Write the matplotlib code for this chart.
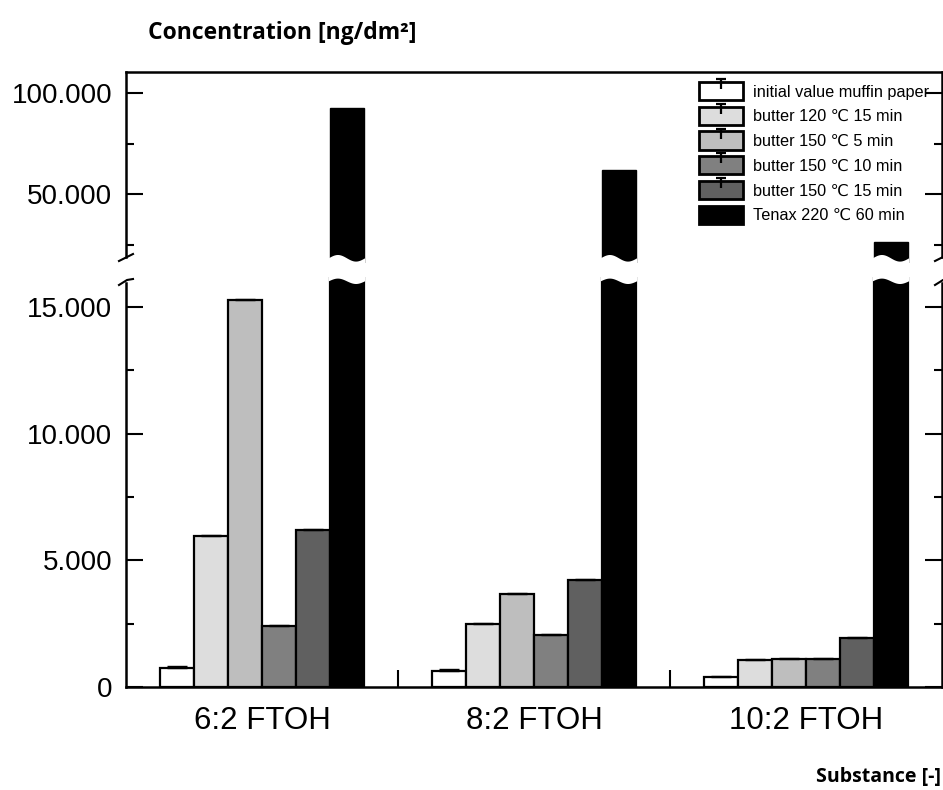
import numpy as np
import matplotlib
matplotlib.use('Agg')
import matplotlib.pyplot as plt
import matplotlib.transforms as mtransforms
from matplotlib.patches import Patch, Polygon
from matplotlib.lines import Line2D
from matplotlib.path import Path
from matplotlib.legend_handler import HandlerTuple
from matplotlib.ticker import FuncFormatter, FixedLocator

plt.rcParams['font.family'] = ['Liberation Sans', 'DejaVu Sans']

# data (ng/dm²)
substances = ['6:2 FTOH', '8:2 FTOH', '10:2 FTOH']
labels = ['initial value muffin paper', 'butter 120 \u2103 15 min',
          'butter 150 \u2103 5 min', 'butter 150 \u2103 10 min',
          'butter 150 \u2103 15 min', 'Tenax 220 \u2103 60 min']
initial = [750, 650, 400]
butter_120_15 = [5950, 2500, 1070]
butter_150_5 = [15270, 3670, 1100]
butter_150_10 = [2400, 2050, 1100]
butter_150_15 = [6200, 4220, 1930]
tenax = [92500, 62000, 26300]
err_initial = [70, 60, 40]
err_120_15 = [50, 40, 40]
err_150_5 = [50, 40, 60]
err_150_10 = [40, 40, 60]
err_150_15 = [40, 40, 60]

values = [initial, butter_120_15, butter_150_5, butter_150_10, butter_150_15, tenax]
errors = [err_initial, err_120_15, err_150_5, err_150_10, err_150_15, None]
colors = ['white', '#dddddd', '#bebebe', '#808080', '#606060', 'black']

W, H = 943, 790
fig = plt.figure(figsize=(W / 100, H / 100), dpi=100)


def fx(px):
    return px / W


def fy(py):
    return 1 - py / H


left, right = 126, 942
ax_top = fig.add_axes([fx(left), fy(263), fx(right - left), (263 - 72) / H])
ax_bot = fig.add_axes([fx(left), fy(687), fx(right - left), (687 - 277) / H],
                      sharex=ax_top)

x = np.arange(len(substances))
width = 0.125
for i, (vals, err, c) in enumerate(zip(values, errors, colors)):
    pos = x + (i - 2.5) * width
    if err is not None:
        yerr = [np.zeros(len(err)), err]
    else:
        yerr = None
    ax_bot.bar(pos, vals, width, color=c, edgecolor='black', linewidth=1.6,
               yerr=yerr, capsize=7,
               error_kw=dict(elinewidth=0.8, capthick=1.0, ecolor='black'))
# only the Tenax series reaches the upper panel
ax_top.bar(x + 2.5 * width, tenax, width, color='black',
           edgecolor='black', linewidth=1.0)

ax_top.set_xlim(-0.5, 2.5)
ax_top.set_ylim(15842, 110396)
ax_bot.set_ylim(0, 16180)

fmt = FuncFormatter(lambda v, p: '{:,.0f}'.format(v).replace(',', '.'))
ax_top.yaxis.set_major_locator(FixedLocator([50000, 100000]))
ax_top.yaxis.set_minor_locator(FixedLocator([25000, 75000]))
ax_bot.yaxis.set_major_locator(FixedLocator([0, 5000, 10000, 15000]))
ax_bot.yaxis.set_minor_locator(FixedLocator([2500, 7500, 12500]))
for ax in (ax_top, ax_bot):
    ax.yaxis.set_major_formatter(fmt)
    ax.tick_params(axis='y', which='major', direction='in', length=12,
                   width=1.5, left=True, right=True, labelsize=20, pad=10)
    ax.tick_params(axis='y', which='minor', direction='in', length=6,
                   width=1.5, left=True, right=True)
    for s in ax.spines.values():
        s.set_linewidth(1.8)

ax_top.spines['bottom'].set_visible(False)
ax_top.spines['left'].set_bounds(18812, 110396)
ax_top.spines['right'].set_bounds(18812, 110396)
ax_top.tick_params(axis='x', which='both', bottom=False, labelbottom=False)

ax_bot.spines['top'].set_visible(False)
ax_bot.spines['left'].set_bounds(0, 15943)
ax_bot.spines['right'].set_bounds(0, 15943)
ax_bot.set_xticks(x)
ax_bot.set_xticklabels(substances)
ax_bot.xaxis.set_minor_locator(FixedLocator([0.5, 1.5]))
ax_bot.tick_params(axis='x', which='major', length=0, labelsize=22.5, pad=14)
ax_bot.tick_params(axis='x', which='minor', direction='in', length=12, width=1.5)

# wavy break across the Tenax bars
blend = mtransforms.blended_transform_factory(ax_bot.transData, fig.transFigure)
t = np.linspace(0, 1, 60)
for g in x:
    x0 = g + 2.0 * width - 0.004
    x1 = g + 3.0 * width + 0.004
    xs = x0 + (x1 - x0) * t
    top = 258.3 - 3.3 * np.sin(2 * np.pi * t)
    bot = 281.3 - 2.7 * np.sin(2 * np.pi * t)
    verts = np.column_stack([np.r_[xs, xs[::-1]],
                             np.r_[fy(top), fy(bot[::-1])]])
    fig.add_artist(Polygon(verts, closed=True, facecolor='white',
                           edgecolor='none', transform=blend, zorder=5))

# break marks on the spines
for xa in (left, right):
    fig.add_artist(Line2D([fx(xa - 7), fx(xa + 7)], [fy(261), fy(254)],
                          transform=fig.transFigure, color='black', lw=1.5))
    fig.add_artist(Line2D([fx(xa - 7), fx(xa + 1), fx(xa + 7)],
                          [fy(285), fy(280), fy(279)],
                          transform=fig.transFigure, color='black', lw=1.5))

# legend with error-bar "T" inside the patches
t_path = Path([(0, 0), (0, 1), (-0.5, 1), (0.5, 1)],
              [Path.MOVETO, Path.LINETO, Path.MOVETO, Path.LINETO])
handles = []
for i, c in enumerate(colors):
    p = Patch(facecolor=c, edgecolor='black', linewidth=2.0)
    if i < 5:
        m = Line2D([], [], marker=t_path, markersize=15, markeredgewidth=1.6,
                   color='black', linestyle='none')
        handles.append((p, m))
    else:
        handles.append(p)
ax_top.legend(handles, labels, handler_map={tuple: HandlerTuple(ndivide=1)},
              loc='upper left', bbox_to_anchor=(fx(699), fy(82)),
              bbox_transform=fig.transFigure, frameon=False, fontsize=11.7,
              handlelength=2.7, handleheight=1.35, labelspacing=0.4,
              handletextpad=0.6, borderpad=0, borderaxespad=0)

fig.text(fx(148), fy(33), 'Concentration [ng/dm\u00b2]', fontsize=16.5,
         fontweight='bold', family=['Open Sans', 'DejaVu Sans'],
         ha='left', va='center')
fig.text(fx(941), fy(777), 'Substance [-]', fontsize=14,
         fontweight='bold', family=['Open Sans', 'DejaVu Sans'],
         ha='right', va='center')

fig.savefig('out.png', dpi=100, facecolor='white')
